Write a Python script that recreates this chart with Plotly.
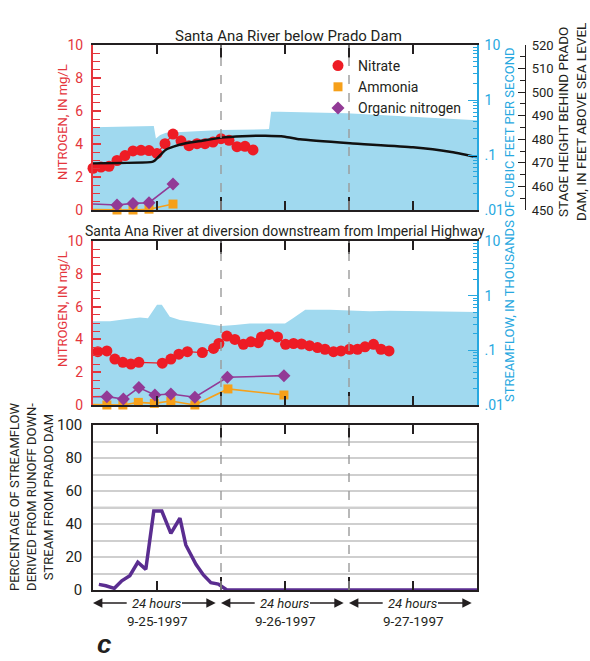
import plotly.graph_objects as go

# ---------------- data ----------------
# Santa Ana River below Prado Dam (top panel); x in hours from 0:00 on 9-25-1997
prado_flow_hours = [0, 5.1, 11.4, 11.8, 12.6, 13.7, 17.3, 24.0, 32.3, 33.0, 33.4, 35.0, 47.6, 60.0, 66.9, 72.0]
prado_flow_kcfs = [0.32, 0.33, 0.337, 0.20, 0.23, 0.254, 0.265, 0.285, 0.293, 0.296, 0.61, 0.61, 0.575, 0.50, 0.45, 0.43]

stage_hours = [0, 11.1, 11.6, 12.7, 13.6, 15.1, 17.4, 20.5, 24.1, 28.0, 32.3, 36.0, 38.8, 48.2, 60.0, 66.9, 71.6, 72.0]
stage_ft = [469.8, 470.4, 471.0, 473.5, 475.5, 476.9, 478.3, 479.4, 480.7, 481.3, 481.5, 481.1, 480.0, 478.3, 476.6, 474.7, 472.6, 472.4]

prado_nitrate_hours = [0, 1.5, 3, 4.5, 6, 7.5, 9, 10.5, 12, 13.5, 15, 16.5, 18, 19.5, 21, 22.5, 24, 25.5, 27, 28.5, 30]
prado_nitrate = [2.53, 2.6, 2.65, 3.0, 3.3, 3.58, 3.62, 3.6, 3.43, 4.02, 4.6, 4.19, 3.9, 4.02, 4.02, 4.12, 4.32, 4.22, 3.84, 3.86, 3.64]

# first value of each series lies at the start of the window (sampled before it)
prado_ammonia_hours = [0, 4.5, 7.5, 10.5, 15]
prado_ammonia = [0.02, 0.0, 0.0, 0.05, 0.36]
prado_organic_hours = [0, 4.5, 7.5, 10.5, 15]
prado_organic = [0.36, 0.3, 0.4, 0.44, 1.57]

# Santa Ana River at diversion downstream from Imperial Highway (middle panel)
imp_flow_hours = [0, 3.2, 6.0, 8.8, 10.3, 12.0, 12.9, 14.4, 16.3, 19.1, 21.9, 24.0, 26.6, 29.4, 32.3,
                  36.0, 37.5, 38.8, 39.8, 44.4, 48.2, 51.9, 55.7, 63.2, 71.6, 72.0]
imp_flow_kcfs = [0.34, 0.34, 0.37, 0.40, 0.385, 0.68, 0.68, 0.41, 0.36, 0.33, 0.30, 0.28, 0.29, 0.31, 0.31,
                 0.31, 0.385, 0.48, 0.55, 0.55, 0.53, 0.52, 0.53, 0.52, 0.50, 0.50]

imp_nitrate_hours = [0.9, 2.6, 4.1, 5.6, 7.1, 8.6, 13.0, 14.6, 16.1, 17.7, 20.5, 22.6, 23.6, 25.1, 26.6, 28.2,
                     29.6, 31.0, 31.6, 33.0, 34.6, 36.1, 37.6, 39.1, 40.6, 42.1, 43.5, 45.1, 46.5, 48.1,
                     49.6, 51.0, 52.6, 54.0, 55.5]
imp_nitrate = [3.25, 3.3, 2.8, 2.6, 2.5, 2.6, 2.55, 2.8, 3.1, 3.25, 3.2, 3.45, 3.75, 4.2, 4.0, 3.7,
               3.85, 3.8, 4.15, 4.3, 4.15, 3.7, 3.75, 3.72, 3.62, 3.5, 3.4, 3.25, 3.3, 3.4,
               3.4, 3.55, 3.7, 3.4, 3.3]
imp_ammonia_hours = [0, 2.6, 5.6, 8.5, 11.5, 14.6, 19.1, 25.3, 35.8]
imp_ammonia = [0.02, 0.0, 0.0, 0.16, 0.1, 0.24, 0.0, 0.98, 0.61]
imp_organic_hours = [0, 2.6, 5.7, 8.6, 11.6, 14.6, 19.1, 25.2, 35.8]
imp_organic = [0.5, 0.51, 0.37, 1.06, 0.61, 0.67, 0.47, 1.69, 1.79]

# Percentage of streamflow derived from runoff downstream from Prado Dam (bottom panel)
pct_hours = [1.1, 2.4, 4.0, 5.4, 6.9, 8.4, 9.9, 11.4, 12.9, 14.6, 16.3, 17.4, 19.3, 20.7, 22.1, 23.5, 25.1, 72.0]
pct_runoff = [3.4, 2.6, 1.0, 5.6, 8.7, 16.8, 12.5, 47.9, 47.9, 34.3, 43.5, 27.3, 15.6, 9.1, 4.4, 3.6, 0, 0]

day_labels = ["9-25-1997", "9-26-1997", "9-27-1997"]
stage_ticks = [450, 460, 470, 480, 490, 500, 510, 520]
flow_ticks = [0.01, 0.1, 1, 10]
flow_tick_text = [".01", ".1", "1", "10"]
nitrogen_ticks = [0, 2, 4, 6, 8, 10]
pct_ticks = [0, 20, 40, 60, 80, 100]

# ---------------- styling ----------------
W, H = 590, 661
FONT = "Liberation Sans Narrow, Roboto, Liberation Sans, Arial, sans-serif"
RED = "#e4353c"
BLUE = "#27a8e0"
FILL = "#a0d9ef"
BLACK = "#231f20"
ORANGE = "#f6a01a"
PURPLE = "#923a96"
INDIGO = "#5a2d90"
NITRATE = "#ee1c25"


def fx(p):
    return p / W


def fy(p):
    return 1 - p / H


XD = [fx(93), fx(477)]
D1 = [fy(210), fy(45)]
D2 = [fy(405), fy(241)]
D3 = [fy(590), fy(425)]
HOURS = 24 * len(day_labels)
day_bounds = [24 * i for i in range(1, len(day_labels))]
half_days = [24 * i + 12 for i in range(len(day_labels))]

minor_log = [k * 10 ** e for e in (-2, -1, 0) for k in range(2, 10)]

fig = go.Figure()


def add_panel(xa, ya_flow, ya_n, fh, fv, nh, nv, ah, av, oh, ov, legend):
    fig.add_trace(go.Scatter(x=[0, HOURS], y=[flow_ticks[0]] * 2, xaxis=xa, yaxis=ya_flow, mode="lines",
                             line=dict(width=0), showlegend=False, hoverinfo="skip"))
    fig.add_trace(go.Scatter(x=fh, y=fv, xaxis=xa, yaxis=ya_flow, mode="lines", fill="tonexty",
                             fillcolor=FILL, line=dict(width=0, color=FILL), showlegend=False))
    # nitrogen species
    fig.add_trace(go.Scatter(x=ah, y=av, xaxis=xa, yaxis=ya_n, mode="lines",
                             line=dict(color=ORANGE, width=1.6), showlegend=False))
    fig.add_trace(go.Scatter(x=ah[1:], y=av[1:], xaxis=xa, yaxis=ya_n, mode="markers", name="Ammonia",
                             marker=dict(symbol="square", size=9, color=ORANGE), cliponaxis=False,
                             showlegend=legend, legendrank=2))
    fig.add_trace(go.Scatter(x=oh, y=ov, xaxis=xa, yaxis=ya_n, mode="lines",
                             line=dict(color=PURPLE, width=1.6), showlegend=False))
    fig.add_trace(go.Scatter(x=oh[1:], y=ov[1:], xaxis=xa, yaxis=ya_n, mode="markers", name="Organic nitrogen",
                             marker=dict(symbol="diamond", size=10, color=PURPLE), cliponaxis=False,
                             showlegend=legend, legendrank=3))
    fig.add_trace(go.Scatter(x=nh, y=nv, xaxis=xa, yaxis=ya_n, mode="lines",
                             line=dict(color=NITRATE, width=1.2), showlegend=False))
    fig.add_trace(go.Scatter(x=nh, y=nv, xaxis=xa, yaxis=ya_n, mode="markers", name="Nitrate",
                             marker=dict(symbol="circle", size=11, color=NITRATE), cliponaxis=False,
                             showlegend=legend, legendrank=1))


add_panel("x", "y", "y2", prado_flow_hours, prado_flow_kcfs, prado_nitrate_hours, prado_nitrate,
          prado_ammonia_hours, prado_ammonia, prado_organic_hours, prado_organic, True)
fig.add_trace(go.Scatter(x=stage_hours, y=stage_ft, xaxis="x", yaxis="y3", mode="lines",
                         line=dict(color="#111111", width=2.4, shape="spline", smoothing=0.5), showlegend=False))
add_panel("x2", "y4", "y5", imp_flow_hours, imp_flow_kcfs, imp_nitrate_hours, imp_nitrate,
          imp_ammonia_hours, imp_ammonia, imp_organic_hours, imp_organic, False)
fig.add_trace(go.Scatter(x=pct_hours, y=pct_runoff, xaxis="x3", yaxis="y6", mode="lines",
                         line=dict(color=INDIGO, width=3.5), cliponaxis=False, showlegend=False))


def xaxis(anchor):
    return dict(domain=XD, anchor=anchor, range=[0, HOURS], showticklabels=False, showgrid=False,
                automargin=False,
                zeroline=False, showline=True, linecolor=BLACK, linewidth=1.5, mirror="ticks",
                tickmode="array", tickvals=day_bounds, ticks="inside", ticklen=13, tickwidth=1.5,
                tickcolor=BLACK,
                minor=dict(tickmode="array", tickvals=half_days, ticks="inside", ticklen=9,
                           tickwidth=1.5, tickcolor=BLACK, showgrid=False))


def flow_axis(domain, anchor):
    return dict(domain=domain, anchor=anchor, side="right", type="log", range=[-2, 1],
                automargin=False,
                showgrid=False, zeroline=False, showline=True, linecolor=BLUE, linewidth=1.5,
                tickmode="array", tickvals=flow_ticks, ticktext=flow_tick_text, ticks="inside",
                ticklen=9, tickwidth=1.2, tickcolor=BLUE, ticklabelstandoff=3,
                tickfont=dict(family=FONT, size=14, color=BLUE),
                minor=dict(tickmode="array", tickvals=minor_log, ticks="inside", ticklen=4,
                           tickwidth=1, tickcolor=BLUE, showgrid=False))


def n_axis(overlay, anchor):
    return dict(overlaying=overlay, anchor=anchor, side="left", range=[0, 10], showgrid=False,
                automargin=False,
                zeroline=False, showline=True, linecolor=RED, linewidth=2,
                tickmode="array", tickvals=nitrogen_ticks, ticks="inside", ticklen=8, tickwidth=1.5,
                tickcolor=RED, tickfont=dict(family=FONT, size=14, color=RED), ticklabelstandoff=5,
                minor=dict(dtick=0.5, ticks="inside", ticklen=7, tickwidth=1.3, tickcolor=RED,
                           showgrid=False))


layout = dict(
    template="none",
    width=W, height=H, autosize=False, margin=dict(l=0, r=0, t=0, b=0, pad=0, autoexpand=False),
    paper_bgcolor="white", plot_bgcolor="rgba(0,0,0,0)",
    font=dict(family=FONT, color=BLACK, size=14),
    xaxis=xaxis("y"), xaxis2=xaxis("y4"), xaxis3=xaxis("y6"),
    yaxis=flow_axis(D1, "x"),
    yaxis2=n_axis("y", "x"),
    yaxis3=dict(overlaying="y", anchor="free", position=fx(525), side="right", range=[450, 520],
                automargin=False,
                showgrid=False, zeroline=False, showline=True, linecolor=BLACK, linewidth=1.3,
                tickmode="array", tickvals=stage_ticks, ticks="inside", ticklen=7, tickwidth=1.2,
                tickcolor=BLACK, tickfont=dict(family=FONT, size=13, color=BLACK), ticklabelstandoff=3,
                minor=dict(dtick=5, ticks="inside", ticklen=5, tickwidth=1, tickcolor=BLACK)),
    yaxis4=flow_axis(D2, "x2"),
    yaxis5=n_axis("y4", "x2"),
    yaxis6=dict(domain=D3, anchor="x3", range=[0, 100], zeroline=False, showline=True, linecolor=BLACK,
                automargin=False,
                linewidth=1.5, mirror=True, tickmode="array", tickvals=pct_ticks, ticks="",
                tickfont=dict(family=FONT, size=15, color=BLACK), ticklabelstandoff=6,
                showgrid=True, gridcolor="#cfcfcf", gridwidth=1.5,
                minor=dict(dtick=10, showgrid=True, gridcolor="#cfcfcf", gridwidth=1.5)),
    showlegend=True,
    legend=dict(x=fx(318), y=fy(50), xanchor="left", yanchor="top", bgcolor="rgba(0,0,0,0)",
                font=dict(family=FONT, size=14, color=BLACK), tracegroupgap=0, itemwidth=30,
                traceorder="normal", borderwidth=0),
)
fig.update_layout(**layout)

shapes = []
for xr, yr in (("x", "y"), ("x2", "y4"), ("x3", "y6")):
    for b in day_bounds:
        shapes.append(dict(type="line", xref=xr, yref=yr + " domain", x0=b, x1=b, y0=0, y1=1,
                           line=dict(color="#9b9b9b", width=1.4, dash="dash"), layer="above"))
shapes.append(dict(type="line", xref="x3 domain", yref="y6", x0=0, x1=1, y0=50, y1=50,
                   line=dict(color="#a8a8a8", width=1.5), layer="below"))
fig.update_layout(shapes=shapes)


def note(text, x, y, size, color=BLACK, angle=0, xref="paper", family=FONT):
    return dict(text=text, xref=xref, yref="paper", x=x, y=y, xanchor="center", yanchor="middle",
                textangle=angle, showarrow=False, font=dict(family=family, size=size, color=color))


ann = []
ann.append(note("Santa Ana River below Prado Dam", fx(288), fy(36), 15))
ann.append(note("Santa Ana River at diversion downstream from Imperial Highway", fx(285), fy(231), 14))
for cy in (122, 309):
    ann.append(note("NITROGEN, IN mg/L", fx(62), fy(cy), 13, RED, -90))
ann.append(note("STREAMFLOW, IN THOUSANDS OF CUBIC FEET PER SECOND", fx(509), fy(225), 13, BLUE, -90))
ann.append(note("STAGE HEIGHT BEHIND PRADO<br>DAM, IN FEET ABOVE SEA LEVEL", fx(572), fy(122), 13.5, BLACK, -90))
ann.append(note("PERCENTAGE OF STREAMFLOW<br>DERIVED FROM RUNOFF DOWN-<br>STREAM FROM PRADO DAM",
                fx(31), fy(497), 13, BLACK, -90))
for i, lab in enumerate(day_labels):
    d0 = 24 * i
    ann.append(note("<i>24 hours</i>", d0 + 12, fy(603), 13, xref="x3"))
    ann.append(note(lab, d0 + 12, fy(621), 13.5, xref="x3"))
    for head, tail in ((d0 + 0.0, d0 + 6.6), (d0 + 23.0, d0 + 16.4)):
        ann.append(dict(text="", xref="x3", yref="paper", x=head, y=fy(603), axref="x3", ax=tail,
                        ayref="pixel", ay=0, showarrow=True, arrowhead=2, arrowsize=1.1, arrowwidth=1.7,
                        arrowcolor=BLACK, standoff=0, startstandoff=0))
ann.append(note("<b><i>c</i></b>", fx(104), fy(644), 26, family="Liberation Sans, Arial, sans-serif"))
fig.update_layout(annotations=ann)

fig.write_html("out.html")
